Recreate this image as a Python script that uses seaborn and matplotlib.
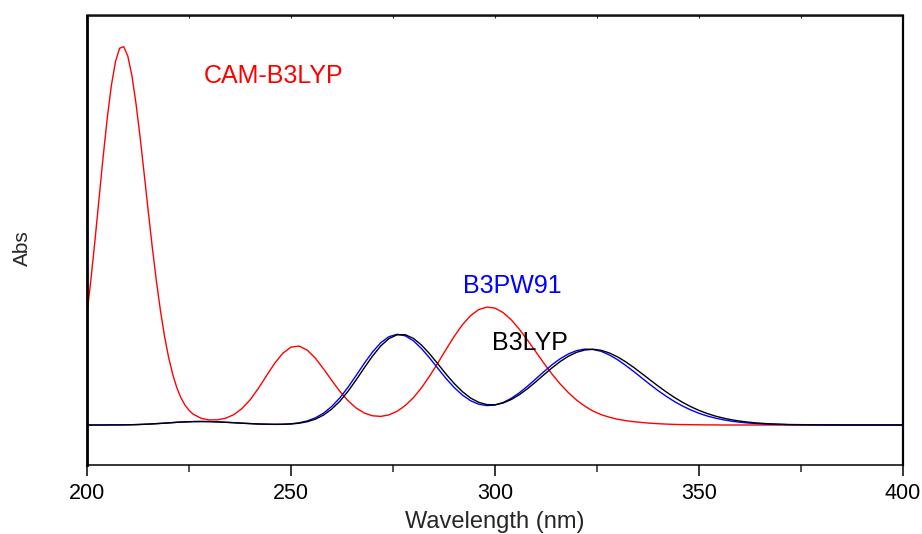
import numpy as np
import pandas as pd
import matplotlib
matplotlib.use("Agg")
import matplotlib.pyplot as plt
from matplotlib.ticker import MultipleLocator
import seaborn as sns

# ---- data (arbitrary absorbance units) ----
wl_cam = list(range(200, 227)) + list(range(228, 401, 2))
abs_cam = [111.3, 146.9, 186.5, 228.3, 269.9, 308.2, 340.3, 363.7, 376.8, 378.3,
           368.9, 349.5, 321.7, 288.4, 251.7, 214.1, 177.8, 144.3, 114.4, 88.8,
           67.7, 50.8, 37.5, 27.4, 20.0, 14.7, 10.9,
           6.6, 5.1, 5.2, 6.8, 10.4, 16.5, 25.3, 36.6, 49.3, 61.7,
           71.8, 77.9, 78.9, 74.8, 66.7, 56.0, 44.5, 33.5, 24.2, 16.9,
           11.9, 9.2, 8.6, 10.1, 13.7, 19.4, 27.3, 37.3, 49.1, 62.1,
           75.6, 88.6, 100.2, 109.3, 115.4, 117.9, 116.9, 112.4, 105.1, 95.6,
           84.7, 73.2, 61.7, 50.8, 40.9, 32.3, 24.9, 18.9, 14.0, 10.4,
           7.8, 5.8, 4.4, 3.3, 2.5, 1.8, 1.3, 0.9, 0.6, 0.4,
           0.3, 0.2, 0.1, 0.1, 0, 0, 0, 0, 0, 0,
           0, 0, 0, 0, 0, 0, 0, 0, 0, 0,
           0, 0, 0, 0, 0, 0, 0]

wl = list(range(200, 401, 2))
abs_b3pw91 = [0, 0, 0, 0.1, 0.1, 0.2, 0.4, 0.7, 1.1, 1.6,
              2.1, 2.7, 3.1, 3.4, 3.5, 3.4, 3.1, 2.7, 2.3, 1.8,
              1.4, 1.0, 0.8, 0.7, 0.8, 1.2, 2.2, 4.1, 7.2, 11.9,
              18.6, 27.3, 37.9, 49.7, 61.9, 73.1, 82.3, 88.3, 90.7, 89.2,
              84.2, 76.4, 66.9, 56.6, 46.5, 37.5, 30.0, 24.3, 20.8, 19.4,
              20.0, 22.5, 26.7, 32.3, 38.9, 46.1, 53.4, 60.3, 66.3, 71.1,
              74.4, 75.9, 75.6, 73.7, 70.1, 65.4, 59.7, 53.5, 47.0, 40.5,
              34.3, 28.6, 23.4, 18.9, 15.0, 11.7, 9.0, 6.9, 5.2, 3.8,
              2.8, 2.0, 1.5, 1.0, 0.7, 0.5, 0.3, 0.2, 0.2, 0.1,
              0.1, 0, 0, 0, 0, 0, 0, 0, 0, 0, 0]
abs_b3lyp = [0, 0, 0, 0.1, 0.1, 0.2, 0.4, 0.7, 1.1, 1.6,
             2.1, 2.7, 3.1, 3.4, 3.5, 3.4, 3.1, 2.7, 2.3, 1.8,
             1.4, 1.0, 0.8, 0.6, 0.7, 1.0, 1.8, 3.3, 5.9, 10.0,
             16.0, 23.9, 33.9, 45.3, 57.4, 69.0, 79.1, 86.4, 90.2, 90.3,
             86.6, 79.9, 71.1, 61.1, 50.9, 41.5, 33.4, 27.0, 22.7, 20.4,
             20.2, 22.0, 25.5, 30.4, 36.4, 43.2, 50.3, 57.2, 63.5, 68.8,
             72.7, 75.0, 75.7, 74.7, 72.1, 68.2, 63.3, 57.6, 51.4, 45.1,
             38.9, 33.0, 27.5, 22.6, 18.3, 14.6, 11.5, 8.9, 6.9, 5.2,
             3.9, 2.9, 2.1, 1.5, 1.1, 0.8, 0.5, 0.4, 0.3, 0.2,
             0.1, 0.1, 0.1, 0, 0, 0, 0, 0, 0, 0, 0]

x_ticks = [200, 250, 300, 350, 400]
series_labels = ["CAM-B3LYP", "B3PW91", "B3LYP"]
series_colors = ["#ff0000", "#0000ff", "#000000"]
label_pos = [(245.8, 349), (304.2, 139), (308.6, 82)]

df_cam = pd.DataFrame({"wl": wl_cam, "abs": abs_cam})
df_pw = pd.DataFrame({"wl": wl, "abs": abs_b3pw91})
df_lyp = pd.DataFrame({"wl": wl, "abs": abs_b3lyp})

sns.set_style("white")
plt.rcParams['font.family'] = ['Liberation Sans', 'DejaVu Sans']

fig = plt.figure(figsize=(9.22, 5.34), dpi=100)
ax = fig.add_axes([87/922, 1-465/534, (903-87)/922, (465-15.5)/534])

for d, c in zip([df_cam, df_pw, df_lyp], series_colors):
    sns.lineplot(data=d, x="wl", y="abs", color=c, lw=1.0, ax=ax, estimator=None)

ax.set_xlim(200, 400)
ax.set_ylim(-40, 409.5)

ax.xaxis.set_minor_locator(MultipleLocator(25))
ax.set_xticks(x_ticks)
ax.set_xticklabels([str(t) for t in x_ticks])
ax.set_yticks([])
ax.tick_params(axis='x', which='major', direction='out', length=8, width=1.1,
               pad=5, labelsize=15.5, bottom=True, top=False, colors='black')
ax.tick_params(axis='x', which='minor', direction='out', length=5, width=1.1,
               bottom=True, top=False)

sec = ax.secondary_xaxis('top')
sec.set_xticks(list(range(200, 401, 25)))
sec.tick_params(axis='x', direction='in', length=2.5, width=0.8, labeltop=False)
sec.spines['top'].set_linewidth(1.1)

for side, lw in [('left', 2.0), ('right', 1.6), ('top', 1.1), ('bottom', 1.1)]:
    ax.spines[side].set_visible(True)
    ax.spines[side].set_color('black')
    ax.spines[side].set_linewidth(lw)

ax.set_xlabel("")
ax.set_ylabel("")
fig.text(495/922, 1-528/534, "Wavelength (nm)", ha='center', va='baseline', fontsize=17)
fig.text(22/922, 1-248/534, "Abs", rotation=90, ha='center', va='center', fontsize=15)

for (tx, ty), lab, c in zip(label_pos, series_labels, series_colors):
    ax.text(tx, ty, lab, color=c, fontsize=18, ha='center', va='center')

fig.savefig("out.png", dpi=100)
